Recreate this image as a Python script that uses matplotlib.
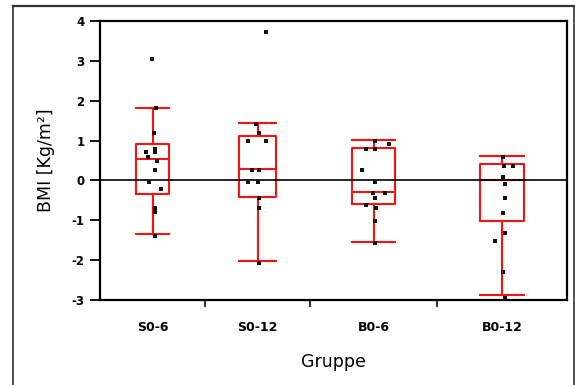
import numpy as np
import matplotlib
matplotlib.use('Agg')
import matplotlib.pyplot as plt
from matplotlib.lines import Line2D

# BMI change per group
groups = ['S0-6', 'S0-12', 'B0-6', 'B0-12']

s06 = [3.05, 1.82, 1.18, 0.80, 0.72, 0.71, 0.58, 0.49, 0.26, -0.03, -0.22, -0.70, -0.80, -1.39]
s012 = [3.73, 1.42, 1.18, 0.99, 0.99, 0.26, 0.26, -0.03, -0.03, -0.45, -0.69, -2.08]
b06 = [0.99, 0.91, 0.79, 0.79, 0.26, -0.03, -0.31, -0.31, -0.43, -0.62, -0.68, -1.01, -1.56]
b012 = [0.58, 0.37, 0.37, 0.08, -0.10, -0.43, -0.82, -1.31, -1.51, -2.29, -2.94]

# horizontal jitter of the points (pixels)
jit = [
    [-0.7, 3.7, 1.7, 2, 2, -6.3, -4.3, 4, 2, -4, 8, 2, 2, 2],
    [8.3, -1.7, 1, -9.4, 8.3, -6, 1.3, -9.4, 0.6, 1, 1, 1],
    [1, 15, -8, 1, -12, 1, -0.7, 11, 1, -8, 2.7, 1, 1],
    [1.3, 2.3, 11, 1.3, 3, 3, 1.3, 3.3, -6.7, 1.3, 3.3],
]

# box summary: whisker low, q1, median, q3, whisker high
whislo = [-1.34, -2.01, -1.54, -2.87]
q1 = [-0.33, -0.41, -0.58, -1.01]
med = [0.55, 0.29, -0.29, 0.0]
q3 = [0.92, 1.11, 0.82, 0.40]
whishi = [1.82, 1.45, 1.01, 0.61]

# group segments along x (JMP style, width ~ group size)
edges = [0, 0.225, 0.45, 0.722, 1.0]
box_w = [0.069, 0.079, 0.093, 0.093]

centers = [(edges[i] + edges[i + 1]) / 2 for i in range(4)]
data = [s06, s012, b06, b012]

fig = plt.figure(figsize=(5.75, 3.85), dpi=100)
ax = fig.add_axes([100 / 575, 85 / 385, 467 / 575, 279 / 385])

stats = [dict(whislo=whislo[i], q1=q1[i], med=med[i], q3=q3[i], whishi=whishi[i], fliers=[])
         for i in range(4)]
red = '#ff1010'
ax.bxp(stats, positions=centers, widths=box_w, capwidths=box_w, showfliers=False,
       boxprops=dict(color=red, lw=1.5),
       whiskerprops=dict(color=red, lw=1.5),
       capprops=dict(color=red, lw=1.5),
       medianprops=dict(color=red, lw=1.5),
       manage_ticks=False, zorder=2)

ax.axhline(0, color='black', lw=1.2, zorder=3)

px = 1 / 467
for i, vals in enumerate(data):
    xs = centers[i] + np.array(jit[i]) * px
    ax.plot(xs, vals, 's', color='#111111', ms=2.5, mew=0, zorder=4)

ax.set_xlim(0, 1)
ax.set_ylim(-3, 4)
ax.set_yticks(range(-3, 5))
ax.set_yticklabels([str(v) for v in range(-3, 5)], fontsize=8.5, fontweight='bold')
ax.tick_params(axis='y', direction='out', length=7, width=1.3, pad=4)

# separator ticks between groups, labels at group centres
ax.set_xticks(edges[1:-1])
ax.set_xticklabels([])
ax.tick_params(axis='x', direction='out', length=5, width=1.5, color='#333333')
for c, g in zip(centers, groups):
    ax.text(c, -0.1, g, transform=ax.get_xaxis_transform(), ha='center', va='center',
            fontsize=9, fontweight='bold')

ax.set_xlabel('Gruppe', fontsize=12.5, labelpad=30)
ax.set_ylabel('BMI [Kg/m²]', fontsize=12.5, labelpad=12)

for s in ax.spines.values():
    s.set_linewidth(1.6)

# outer frame of the figure
fc = '#333333'
fig.add_artist(Line2D([13 / 575, 575 / 575], [1 - 6 / 385] * 2, color=fc, lw=1.6))
fig.add_artist(Line2D([13 / 575] * 2, [0, 1 - 6 / 385], color=fc, lw=1.2))
fig.add_artist(Line2D([574 / 575] * 2, [0, 1 - 6 / 385], color=fc, lw=1.2))

fig.savefig('out.png', dpi=100)
